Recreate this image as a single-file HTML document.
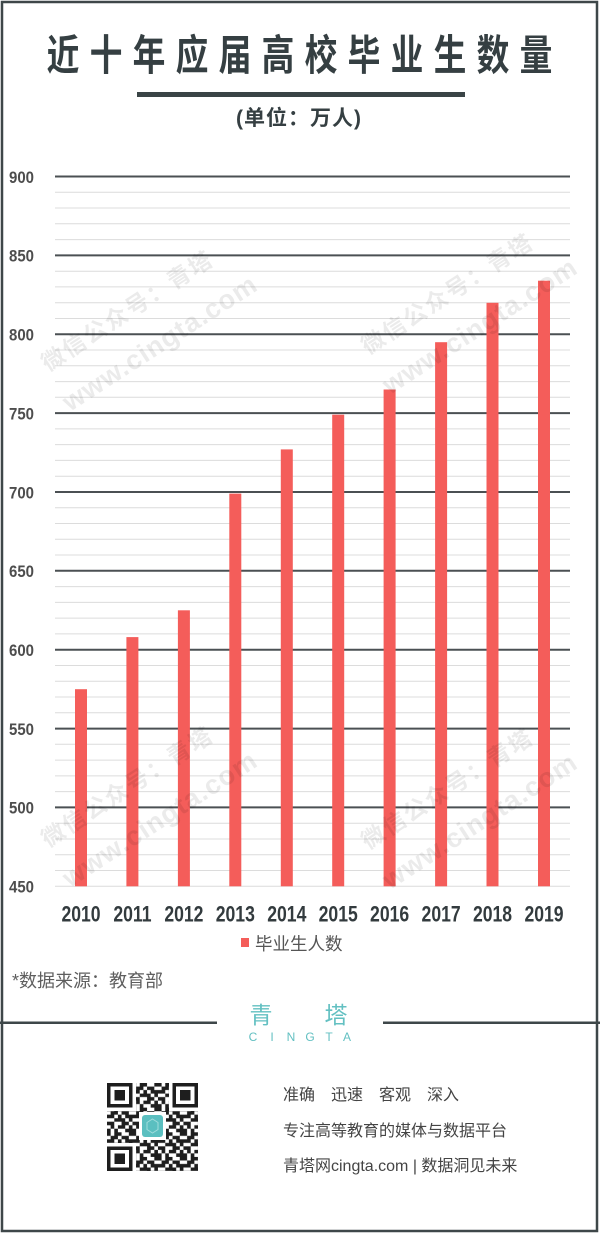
<!DOCTYPE html>
<html><head><meta charset="utf-8"><style>
html,body{margin:0;padding:0;background:#fff;}
#p{position:relative;width:600px;height:1233px;overflow:hidden;background:#fff;}
svg{position:absolute;left:0;top:0;}
</style></head><body><div id="p">
<svg width="600" height="1233" viewBox="0 0 600 1233" xmlns="http://www.w3.org/2000/svg">
<defs>
<pattern id="qp" patternUnits="userSpaceOnUse" width="7" height="7">
<path fill="#1e1e1e" d="M0 0h1v1h-1z M2 0h2v1h-2z M6 0h1v1h-1z M1 1h2v1h-2z M4 1h2v1h-2z M0 2h2v1h-2z M3 2h1v1h-1z M5 2h2v1h-2z M2 3h3v1h-3z M6 3h1v1h-1z M0 4h2v1h-2z M4 4h2v1h-2z M1 5h1v1h-1z M3 5h2v1h-2z M6 5h1v1h-1z M0 6h1v1h-1z M2 6h1v1h-1z M5 6h2v1h-2z"/>
</pattern>
</defs>
<!-- frame -->
<rect x="2" y="2" width="595" height="1229" fill="none" stroke="#3e4749" stroke-width="2.5"/>
<!-- title -->
<g font-family="'Liberation Sans','Noto Sans CJK SC',sans-serif" font-weight="700" font-size="42" fill="#353f42" text-anchor="middle">
<text transform="translate(63,70) scale(0.78,1)">近</text>
<text transform="translate(106,70) scale(0.78,1)">十</text>
<text transform="translate(149,70) scale(0.78,1)">年</text>
<text transform="translate(192,70) scale(0.78,1)">应</text>
<text transform="translate(235,70) scale(0.78,1)">届</text>
<text transform="translate(278,70) scale(0.78,1)">高</text>
<text transform="translate(321,70) scale(0.78,1)">校</text>
<text transform="translate(364,70) scale(0.78,1)">毕</text>
<text transform="translate(407,70) scale(0.78,1)">业</text>
<text transform="translate(450,70) scale(0.78,1)">生</text>
<text transform="translate(493,70) scale(0.78,1)">数</text>
<text transform="translate(536,70) scale(0.78,1)">量</text>
</g>
<rect x="137" y="92" width="328" height="5" fill="#3a4446"/>
<text x="299" y="125" text-anchor="middle" font-family="'Liberation Sans','Noto Sans CJK SC',sans-serif" font-weight="700" font-size="21" letter-spacing="1" fill="#353f42">(单位：万人)</text>

<!-- minor gridlines -->
<g stroke="#dcdcdc" stroke-width="1">
<line x1="55" x2="570" y1="192.3" y2="192.3"/><line x1="55" x2="570" y1="208.0" y2="208.0"/><line x1="55" x2="570" y1="223.8" y2="223.8"/><line x1="55" x2="570" y1="239.6" y2="239.6"/>
<line x1="55" x2="570" y1="271.2" y2="271.2"/><line x1="55" x2="570" y1="286.9" y2="286.9"/><line x1="55" x2="570" y1="302.7" y2="302.7"/><line x1="55" x2="570" y1="318.5" y2="318.5"/>
<line x1="55" x2="570" y1="350.0" y2="350.0"/><line x1="55" x2="570" y1="365.8" y2="365.8"/><line x1="55" x2="570" y1="381.6" y2="381.6"/><line x1="55" x2="570" y1="397.3" y2="397.3"/>
<line x1="55" x2="570" y1="428.9" y2="428.9"/><line x1="55" x2="570" y1="444.6" y2="444.6"/><line x1="55" x2="570" y1="460.4" y2="460.4"/><line x1="55" x2="570" y1="476.2" y2="476.2"/>
<line x1="55" x2="570" y1="507.7" y2="507.7"/><line x1="55" x2="570" y1="523.5" y2="523.5"/><line x1="55" x2="570" y1="539.3" y2="539.3"/><line x1="55" x2="570" y1="555.0" y2="555.0"/>
<line x1="55" x2="570" y1="586.6" y2="586.6"/><line x1="55" x2="570" y1="602.4" y2="602.4"/><line x1="55" x2="570" y1="618.1" y2="618.1"/><line x1="55" x2="570" y1="633.9" y2="633.9"/>
<line x1="55" x2="570" y1="665.5" y2="665.5"/><line x1="55" x2="570" y1="681.2" y2="681.2"/><line x1="55" x2="570" y1="697.0" y2="697.0"/><line x1="55" x2="570" y1="712.8" y2="712.8"/>
<line x1="55" x2="570" y1="744.3" y2="744.3"/><line x1="55" x2="570" y1="760.1" y2="760.1"/><line x1="55" x2="570" y1="775.9" y2="775.9"/><line x1="55" x2="570" y1="791.6" y2="791.6"/>
<line x1="55" x2="570" y1="823.2" y2="823.2"/><line x1="55" x2="570" y1="839.0" y2="839.0"/><line x1="55" x2="570" y1="854.7" y2="854.7"/><line x1="55" x2="570" y1="870.5" y2="870.5"/>
<line x1="55" x2="570" y1="886.3" y2="886.3"/>
</g>
<!-- major gridlines -->
<g stroke="#4b5053" stroke-width="2">
<line x1="55" x2="570" y1="176.5" y2="176.5"/>
<line x1="55" x2="570" y1="255.4" y2="255.4"/>
<line x1="55" x2="570" y1="334.2" y2="334.2"/>
<line x1="55" x2="570" y1="413.1" y2="413.1"/>
<line x1="55" x2="570" y1="492.0" y2="492.0"/>
<line x1="55" x2="570" y1="570.8" y2="570.8"/>
<line x1="55" x2="570" y1="649.7" y2="649.7"/>
<line x1="55" x2="570" y1="728.6" y2="728.6"/>
<line x1="55" x2="570" y1="807.4" y2="807.4"/>
</g>
<!-- y labels -->
<g font-family="'Liberation Sans',sans-serif" font-weight="700" font-size="17" fill="#4d4d4d">
<text transform="translate(9,182.8) scale(0.88,1)">900</text>
<text transform="translate(9,261.7) scale(0.88,1)">850</text>
<text transform="translate(9,340.5) scale(0.88,1)">800</text>
<text transform="translate(9,419.4) scale(0.88,1)">750</text>
<text transform="translate(9,498.3) scale(0.88,1)">700</text>
<text transform="translate(9,577.1) scale(0.88,1)">650</text>
<text transform="translate(9,656.0) scale(0.88,1)">600</text>
<text transform="translate(9,734.9) scale(0.88,1)">550</text>
<text transform="translate(9,813.7) scale(0.88,1)">500</text>
<text transform="translate(9,892.6) scale(0.88,1)">450</text>
</g>
<!-- bars -->
<g fill="#f45d5a">
<rect x="75" y="689.2" width="12" height="197.1"/>
<rect x="126.4" y="637.1" width="12" height="249.2"/>
<rect x="177.9" y="610.3" width="12" height="276"/>
<rect x="229.3" y="493.6" width="12" height="392.7"/>
<rect x="280.8" y="449.4" width="12" height="436.9"/>
<rect x="332.2" y="414.7" width="12" height="471.6"/>
<rect x="383.6" y="389.5" width="12" height="496.8"/>
<rect x="435.1" y="342.2" width="12" height="544.1"/>
<rect x="486.5" y="302.8" width="12" height="583.5"/>
<rect x="538" y="280.7" width="12" height="605.6"/>
</g>
<!-- year labels -->
<g font-family="'Liberation Sans',sans-serif" font-weight="700" font-size="22" fill="#333b3e" text-anchor="middle">
<text transform="translate(81,921.5) scale(0.8,1)">2010</text>
<text transform="translate(132.4,921.5) scale(0.8,1)">2011</text>
<text transform="translate(183.9,921.5) scale(0.8,1)">2012</text>
<text transform="translate(235.3,921.5) scale(0.8,1)">2013</text>
<text transform="translate(286.8,921.5) scale(0.8,1)">2014</text>
<text transform="translate(338.2,921.5) scale(0.8,1)">2015</text>
<text transform="translate(389.6,921.5) scale(0.8,1)">2016</text>
<text transform="translate(441.1,921.5) scale(0.8,1)">2017</text>
<text transform="translate(492.5,921.5) scale(0.8,1)">2018</text>
<text transform="translate(544,921.5) scale(0.8,1)">2019</text>
</g>
<!-- legend -->
<rect x="241" y="938" width="8" height="9" fill="#f45d5a"/>
<text x="255" y="950" font-family="'Liberation Sans','Noto Sans CJK SC',sans-serif" font-size="17.5" fill="#555">毕业生人数</text>
<!-- source -->
<text x="12" y="987" font-family="'Liberation Sans','Noto Sans CJK SC',sans-serif" font-size="18" fill="#5e5e5e">*数据来源：教育部</text>

<!-- watermarks -->
<g fill="#000" fill-opacity="0.08" font-family="'Liberation Sans','Noto Sans CJK SC',sans-serif" font-weight="700">
<text transform="translate(48,372) rotate(-33)" font-size="23" letter-spacing="2">微信公众号：青塔</text>
<text transform="translate(70,412) rotate(-33)" font-size="27" letter-spacing="1">www.cingta.com</text>
<text transform="translate(368,355) rotate(-33)" font-size="23" letter-spacing="2">微信公众号：青塔</text>
<text transform="translate(390,395) rotate(-33)" font-size="27" letter-spacing="1">www.cingta.com</text>
<text transform="translate(48,848) rotate(-33)" font-size="23" letter-spacing="2">微信公众号：青塔</text>
<text transform="translate(70,888) rotate(-33)" font-size="27" letter-spacing="1">www.cingta.com</text>
<text transform="translate(368,850) rotate(-33)" font-size="23" letter-spacing="2">微信公众号：青塔</text>
<text transform="translate(390,890) rotate(-33)" font-size="27" letter-spacing="1">www.cingta.com</text>
</g>

<!-- separator + logo -->
<rect x="0" y="1021.5" width="217" height="2.5" fill="#3e4749"/>
<rect x="383" y="1021.5" width="217" height="2.5" fill="#3e4749"/>
<g font-family="'Liberation Sans','Noto Sans CJK SC',sans-serif" font-size="23" fill="#63c0c2" text-anchor="middle">
<text x="261" y="1023">青</text>
<text x="336" y="1023">塔</text>
</g>
<g font-family="'Liberation Sans',sans-serif" font-size="12" fill="#63c0c2" text-anchor="middle">
<text x="253" y="1041">C</text><text x="272" y="1041">I</text><text x="291" y="1041">N</text><text x="310" y="1041">G</text><text x="329" y="1041">T</text><text x="347" y="1041">A</text>
</g>

<!-- QR code -->
<svg x="107" y="1083" width="91" height="88" viewBox="0 0 25 25" preserveAspectRatio="none" shape-rendering="crispEdges">
<rect x="0" y="0" width="25" height="25" fill="url(#qp)"/>
<rect x="0" y="0" width="8" height="8" fill="#fff"/>
<rect x="17" y="0" width="8" height="8" fill="#fff"/>
<rect x="0" y="17" width="8" height="8" fill="#fff"/>
<rect x="0" y="0" width="7" height="7" fill="#1e1e1e"/><rect x="1" y="1" width="5" height="5" fill="#fff"/><rect x="2" y="2" width="3" height="3" fill="#1e1e1e"/>
<rect x="18" y="0" width="7" height="7" fill="#1e1e1e"/><rect x="19" y="1" width="5" height="5" fill="#fff"/><rect x="20" y="2" width="3" height="3" fill="#1e1e1e"/>
<rect x="0" y="18" width="7" height="7" fill="#1e1e1e"/><rect x="1" y="19" width="5" height="5" fill="#fff"/><rect x="2" y="20" width="3" height="3" fill="#1e1e1e"/>
</svg>
<rect x="139" y="1112" width="27" height="28" fill="#fff"/>
<rect x="142" y="1115" width="21" height="22" rx="3" fill="#5bbfc0"/>
<polygon points="152.5,1119 158,1122.5 158,1129.5 152.5,1133 147,1129.5 147,1122.5" fill="none" stroke="#9fdcdc" stroke-width="1"/>

<!-- footer text -->
<g font-family="'Liberation Sans','Noto Sans CJK SC',sans-serif" font-size="16" fill="#444">
<text x="283" y="1100">准确　迅速　客观　深入</text>
<text x="283" y="1136">专注高等教育的媒体与数据平台</text>
<text x="283" y="1171">青塔网cingta.com | 数据洞见未来</text>
</g>
</svg>
</div></body></html>
